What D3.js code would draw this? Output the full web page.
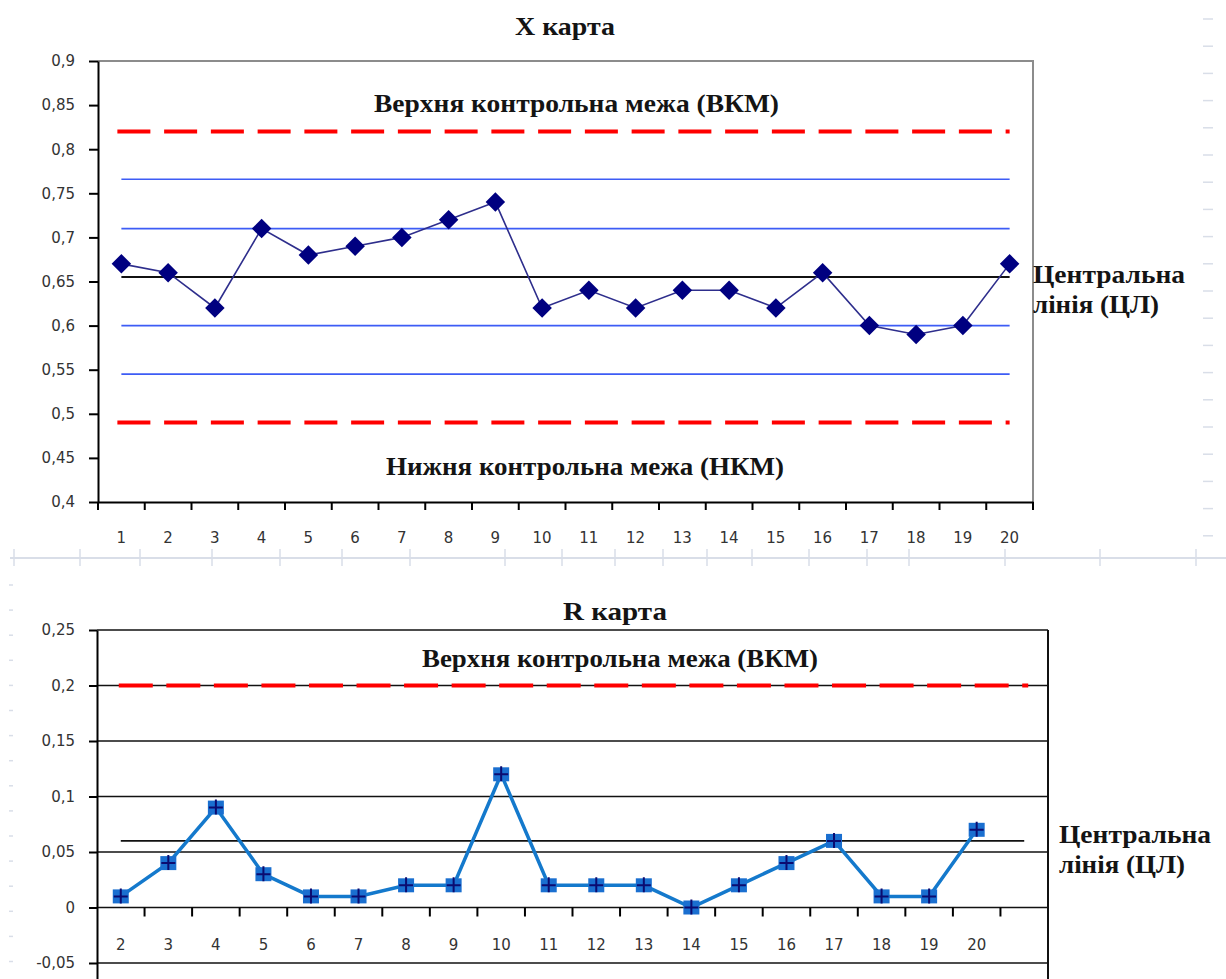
<!DOCTYPE html>
<html>
<head>
<meta charset="utf-8">
<script src="https://cdn.jsdelivr.net/npm/d3@7"></script>
<style>
  body { margin: 0; background: #fff; }
</style>
</head>
<body>
<div id="chart"></div>
<script>
// ---- X chart data
const xLabels = ["1", "2", "3", "4", "5", "6", "7", "8", "9", "10",
    "11", "12", "13", "14", "15", "16", "17", "18", "19", "20"];
const xMeans = [0.67, 0.66, 0.62, 0.71, 0.68, 0.69, 0.70, 0.72, 0.74, 0.62,
    0.64, 0.62, 0.64, 0.64, 0.62, 0.66, 0.60, 0.59, 0.60, 0.67];
const xCenter = 0.655;
const xUCL = 0.82;
const xLCL = 0.49;
const xSigmaLines = [0.545, 0.6, 0.71, 0.766];
const xTicks = [0.4, 0.45, 0.5, 0.55, 0.6, 0.65, 0.7, 0.75, 0.8, 0.85, 0.9];

// ---- R chart data
const rLabels = ["2", "3", "4", "5", "6", "7", "8", "9", "10", "11",
    "12", "13", "14", "15", "16", "17", "18", "19", "20", ""];
const rRanges = [0.01, 0.04, 0.09, 0.03, 0.01, 0.01, 0.02, 0.02, 0.12, 0.02,
    0.02, 0.02, 0.00, 0.02, 0.04, 0.06, 0.01, 0.01, 0.07];
const rCenter = 0.06;
const rUCL = 0.2;
const rTicks = [-0.05, 0, 0.05, 0.1, 0.15, 0.2, 0.25];

const width = 1226;
const height = 979;

const comma = d => d === 0 ? "0" : String(d).replace(".", ",");
const serif = "'Liberation Serif', 'DejaVu Serif', serif";
const sans = "'DejaVu Sans', Verdana, sans-serif";

const svg = d3.select("#chart").append("svg")
    .attr("width", width)
    .attr("height", height);

svg.append("rect")
    .attr("width", width)
    .attr("height", height)
    .attr("fill", "#fff");

// spreadsheet cell lines showing behind the charts
const deco = svg.append("g").attr("stroke", "#d9dee8").attr("stroke-width", 1.5);
deco.selectAll("line.rcol")
    .data(d3.range(19, 540, 27.2))
    .join("line")
    .attr("x1", 1203).attr("x2", 1213)
    .attr("y1", d => d).attr("y2", d => d);
deco.append("line")
    .attr("x1", 10).attr("x2", width)
    .attr("y1", 558).attr("y2", 558)
    .attr("stroke-width", 2);
deco.selectAll("line.vt")
    .data([14, 80, 140, 212, 280, 342, 410, 505, 562, 615, 663, 707, 752, 809, 867, 909, 1005, 1100, 1196])
    .join("line")
    .attr("x1", d => d).attr("x2", d => d)
    .attr("y1", 549).attr("y2", 566);
deco.selectAll("line.lcol")
    .data(d3.range(585, 979, 25.1))
    .join("line")
    .attr("x1", 9).attr("x2", 13)
    .attr("y1", d => d).attr("y2", d => d);

function label(txt, x, y, len) {
    svg.append("text")
        .attr("x", x)
        .attr("y", y)
        .attr("textLength", len)
        .attr("lengthAdjust", "spacingAndGlyphs")
        .attr("font-family", serif)
        .attr("font-weight", "bold")
        .attr("font-size", 26)
        .attr("fill", "#141414")
        .text(txt);
}

function styleAxis(ax) {
    ax.selectAll("text")
        .attr("font-family", sans)
        .attr("font-size", 15)
        .attr("fill", "#333");
    ax.selectAll("line").attr("stroke", "#000").attr("stroke-width", 2);
    ax.select(".domain").attr("stroke", "#000").attr("stroke-width", 2);
}

// ================= X chart =================
const m1 = { left: 98, right: 1033, top: 61, bottom: 502 };
const x1 = d3.scaleBand().domain(xLabels).range([m1.left, m1.right]);
const y1 = d3.scaleLinear().domain([0.4, 0.9]).range([m1.bottom, m1.top]);
const cx1 = d => x1(d) + x1.bandwidth() / 2;
const x1First = cx1(xLabels[0]);
const x1Last = cx1(xLabels[xLabels.length - 1]);

svg.append("path")
    .attr("d", `M${m1.left},${m1.top}H${m1.right}V${m1.bottom}`)
    .attr("fill", "none")
    .attr("stroke", "#8c8c8c")
    .attr("stroke-width", 2);

const yAx1 = svg.append("g")
    .attr("transform", `translate(${m1.left},0)`)
    .call(d3.axisLeft(y1).tickValues(xTicks).tickSize(9).tickSizeOuter(0).tickPadding(14).tickFormat(comma));
styleAxis(yAx1);

const xAx1 = svg.append("g")
    .attr("transform", `translate(0,${m1.bottom})`)
    .call(d3.axisBottom(x1).tickSize(0).tickPadding(30));
styleAxis(xAx1);
xAx1.selectAll("line.bnd")
    .data(xLabels.map(d => x1(d)).concat([x1.range()[1]]))
    .join("line")
    .attr("class", "bnd")
    .attr("x1", d => d).attr("x2", d => d)
    .attr("y1", 0).attr("y2", 8)
    .attr("stroke", "#000").attr("stroke-width", 2);

const g1 = svg.append("g");

g1.selectAll("line.sigma")
    .data(xSigmaLines)
    .join("line")
    .attr("class", "sigma")
    .attr("x1", x1First).attr("x2", x1Last)
    .attr("y1", d => y1(d)).attr("y2", d => y1(d))
    .attr("stroke", "#3d5cf5")
    .attr("stroke-width", 1.6);

g1.append("line")
    .attr("x1", x1First).attr("x2", x1Last)
    .attr("y1", y1(xCenter)).attr("y2", y1(xCenter))
    .attr("stroke", "#111")
    .attr("stroke-width", 2);

g1.selectAll("line.limit")
    .data([xUCL, xLCL])
    .join("line")
    .attr("class", "limit")
    .attr("x1", x1First - 4).attr("x2", x1Last)
    .attr("y1", d => y1(d)).attr("y2", d => y1(d))
    .attr("stroke", "#ff0000")
    .attr("stroke-width", 4)
    .attr("stroke-dasharray", `33,${x1.bandwidth() - 33}`);

const line1 = d3.line()
    .x((d, i) => cx1(xLabels[i]))
    .y(d => y1(d));

g1.append("path")
    .datum(xMeans)
    .attr("d", line1)
    .attr("fill", "none")
    .attr("stroke", "#2e2e8c")
    .attr("stroke-width", 1.6);

g1.selectAll("path.dot")
    .data(xMeans)
    .join("path")
    .attr("class", "dot")
    .attr("d", d3.symbol(d3.symbolSquare, 190))
    .attr("transform", (d, i) => `translate(${cx1(xLabels[i])},${y1(d)}) rotate(45)`)
    .attr("fill", "#000080");

label("X карта", 515, 35, 100);
label("Верхня контрольна межа (ВКМ)", 374, 112, 405);
label("Нижня контрольна межа (НКМ)", 386, 475, 398);
label("Центральна", 1033, 283, 152);
label("лінія (ЦЛ)", 1033, 313, 126);

// ================= R chart =================
// the plot runs on past the bottom edge of the picture
const m2 = { left: 97, right: 1048, top: 630, bottom: 1018.5 };
const x2 = d3.scaleBand().domain(rLabels).range([m2.left, m2.right]);
const y2 = d3.scaleLinear().domain([-0.1, 0.25]).range([m2.bottom, m2.top]);
const cx2 = d => x2(d) + x2.bandwidth() / 2;
const x2First = cx2(rLabels[0]);
const x2Last = cx2(rLabels[rLabels.length - 1]);

svg.append("g").selectAll("line")
    .data(rTicks)
    .join("line")
    .attr("x1", m2.left).attr("x2", m2.right)
    .attr("y1", d => y2(d)).attr("y2", d => y2(d))
    .attr("stroke", "#111")
    .attr("stroke-width", 1.6);

svg.append("line")
    .attr("x1", m2.right).attr("x2", m2.right)
    .attr("y1", m2.top).attr("y2", m2.bottom)
    .attr("stroke", "#111")
    .attr("stroke-width", 2);

const yAx2 = svg.append("g")
    .attr("transform", `translate(${m2.left},0)`)
    .call(d3.axisLeft(y2).tickValues(rTicks).tickSize(8).tickSizeOuter(0).tickPadding(14).tickFormat(comma));
styleAxis(yAx2);

const xAx2 = svg.append("g")
    .attr("transform", `translate(0,${y2(0)})`)
    .call(d3.axisBottom(x2).tickSize(0).tickPadding(32));
styleAxis(xAx2);
xAx2.select(".domain").remove();
xAx2.selectAll("line.bnd")
    .data(rLabels.slice(1).map(d => x2(d)))
    .join("line")
    .attr("class", "bnd")
    .attr("x1", d => d).attr("x2", d => d)
    .attr("y1", 0).attr("y2", 9)
    .attr("stroke", "#000").attr("stroke-width", 2);

const g2 = svg.append("g");

g2.append("line")
    .attr("x1", x2First - 2).attr("x2", x2Last + 4)
    .attr("y1", y2(rUCL)).attr("y2", y2(rUCL))
    .attr("stroke", "#ff0000")
    .attr("stroke-width", 4)
    .attr("stroke-dasharray", `34,${x2.bandwidth() - 34}`);

g2.append("line")
    .attr("x1", x2First).attr("x2", x2Last)
    .attr("y1", y2(rCenter)).attr("y2", y2(rCenter))
    .attr("stroke", "#111")
    .attr("stroke-width", 1.6);

const line2 = d3.line()
    .x((d, i) => cx2(rLabels[i]))
    .y(d => y2(d));

g2.append("path")
    .datum(rRanges)
    .attr("d", line2)
    .attr("fill", "none")
    .attr("stroke", "#1479cc")
    .attr("stroke-width", 3.5);

const mk = g2.selectAll("g.mk")
    .data(rRanges)
    .join("g")
    .attr("class", "mk")
    .attr("transform", (d, i) => `translate(${cx2(rLabels[i])},${y2(d)})`);
mk.append("rect")
    .attr("x", -8).attr("y", -7)
    .attr("width", 16).attr("height", 14)
    .attr("fill", "#1a6fd0");
mk.append("path")
    .attr("d", "M-7,0H7M0,-8V7")
    .attr("stroke", "#0b0b70")
    .attr("stroke-width", 2);

label("R карта", 563, 620, 104);
label("Верхня контрольна межа (ВКМ)", 422, 667, 396);
label("Центральна", 1059, 843, 152);
label("лінія (ЦЛ)", 1059, 873, 126);
</script>
</body>
</html>
